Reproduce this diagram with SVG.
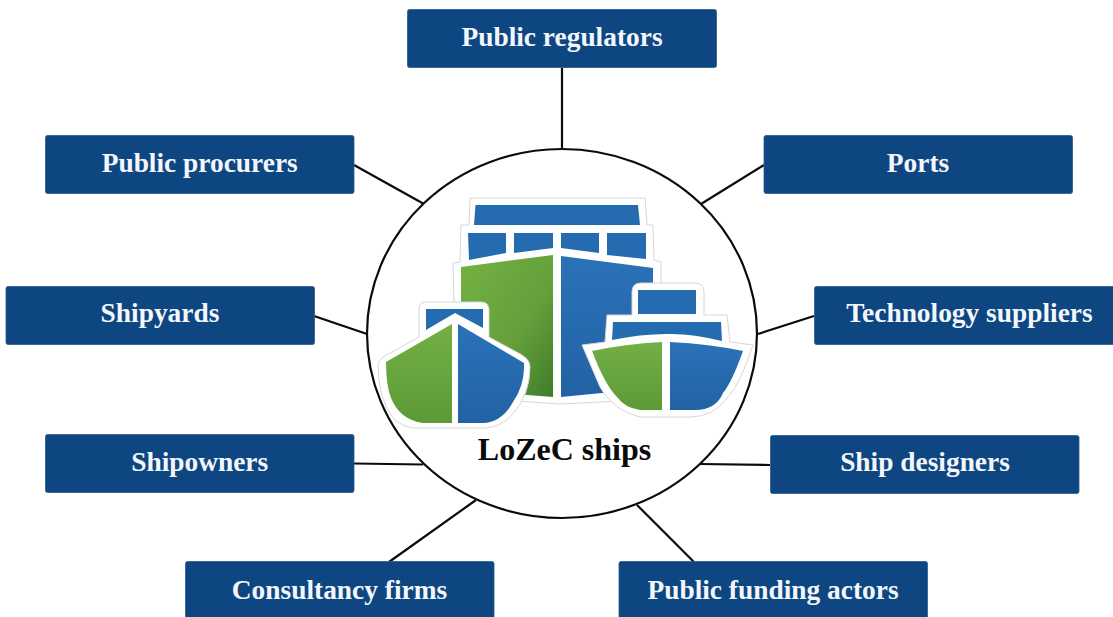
<svg xmlns="http://www.w3.org/2000/svg" width="1113" height="617" viewBox="0 0 1113 617">
<style>
.box{fill:#0e4682;stroke:#2a5a8e;stroke-width:.8}
.lbl{font-family:"Liberation Serif","Times New Roman",serif;font-weight:700;font-size:27.4px;fill:#f3f7fb;text-anchor:middle}
.con{stroke:#0a0a0a;stroke-width:2.2;fill:none}
.out{fill:#fff;stroke:#d6d6d6;stroke-width:1;stroke-linejoin:round}
.b{fill:url(#blue)}
.g{fill:url(#green)}
.gd{fill:url(#greenDark)}
.w{fill:#246bb0}
</style>
<defs>
<linearGradient id="blue" x1="0" y1="0" x2="0" y2="1"><stop offset="0" stop-color="#2a72b8"/><stop offset="1" stop-color="#2262a4"/></linearGradient>
<linearGradient id="green" x1="0" y1="0" x2="0" y2="1"><stop offset="0" stop-color="#72b044"/><stop offset="1" stop-color="#5c9a38"/></linearGradient>
<linearGradient id="greenDark" x1="0" y1="0" x2="1" y2="1"><stop offset="0" stop-color="#74b244"/><stop offset=".6" stop-color="#649f3a"/><stop offset="1" stop-color="#3f7c2a"/></linearGradient>
</defs>
<rect width="1113" height="617" fill="#fff"/>
<g id="connectors">
<line class="con" x1="562" y1="68" x2="562" y2="149"/>
<line class="con" x1="354" y1="165" x2="424" y2="204"/>
<line class="con" x1="764" y1="165" x2="701" y2="204"/>
<line class="con" x1="314" y1="316" x2="367" y2="334"/>
<line class="con" x1="814" y1="316" x2="758" y2="334"/>
<line class="con" x1="354" y1="463.500" x2="423" y2="464.500"/>
<line class="con" x1="770" y1="465" x2="700" y2="464"/>
<line class="con" x1="389" y1="562" x2="476" y2="500"/>
<line class="con" x1="694" y1="562" x2="637" y2="505"/>
</g>
<g id="hub">
<ellipse cx="562" cy="333.500" rx="195" ry="184.500" fill="#fff" stroke="#0a0a0a" stroke-width="2.200"/>
<g id="ship-large">
<path class="out" d="M470 198H645L647 225H653L654 260L661 262V330L640 400L560 404L500 400L455 340L453 263L460 262L461 225H469Z"/>
<path class="w" d="M475.500 205H638L640 225H474Z"/>
<path class="w" d="M468 233H506V253L469 260Z"/>
<path class="w" d="M514 233H553V248L514 253Z"/>
<path class="w" d="M561 233H599V253L561 248Z"/>
<path class="w" d="M607 233H646V259L607 255Z"/>
<path class="gd" d="M461 267L553 255V397L461 390Z"/>
<path class="b" d="M561 256L653 268V393L602 393L561 397Z"/>
</g>
<g id="ship-left">
<path class="out" d="M426 302H481Q489 302 489 310V337L522 355Q530 360 530 367Q530 395 512 415Q500 428 484 428H413Q395 425 388 410Q378 392 378 365Q378 360 385 356L419 337V310Q419 302 426 302Z"/>
<path class="w" d="M426 309H483V328L455 313L426 330Z"/>
<path class="g" d="M452 324V423H423Q400 420 391 398Q386 385 386 362Z"/>
<path class="b" d="M458 324L524 363Q525 385 513 402Q502 422 483 423H458Z"/>
</g>
<g id="ship-right">
<path class="out" d="M582 345L605 342L607 315H632V292Q632 283 641 283H695Q704 283 704 292V315H727L730 342L753 345Q740 385 727 398Q713 417 690 417H640Q622 412 613 403Q604 395 600 387Z"/>
<path class="w" d="M638 290H696V314H638Z"/>
<path class="w" d="M613 322H721L722 341Q690 333 667 334Q640 334 612 340Z"/>
<path class="g" d="M592 351Q625 344 662 342V410H640Q625 408 617 397Q605 385 592 351Z"/>
<path class="b" d="M670 342Q710 344 743 351Q732 382 723 393Q716 410 695 410H670Z"/>
</g>
<text x="564.500" y="460" font-family="Liberation Serif,Times New Roman,serif" font-weight="700" font-size="32" fill="#0a0a0a" text-anchor="middle">LoZeC ships</text>
</g>
<g id="public-regulators"><rect class="box" x="407.500" y="9.500" width="309" height="58" rx="2"/><text class="lbl" x="562" y="46">Public regulators</text></g>
<g id="public-procurers"><rect class="box" x="45.500" y="135.500" width="308.500" height="58" rx="2"/><text class="lbl" x="199.700" y="171.500">Public procurers</text></g>
<g id="ports"><rect class="box" x="764" y="135.500" width="308.500" height="58" rx="2"/><text class="lbl" x="918" y="171.500">Ports</text></g>
<g id="shipyards"><rect class="box" x="6" y="286.500" width="308.500" height="58" rx="2"/><text class="lbl" x="160" y="322">Shipyards</text></g>
<g id="technology-suppliers"><rect class="box" x="814.500" y="286.500" width="310" height="58" rx="2"/><text class="lbl" x="969.500" y="322">Technology suppliers</text></g>
<g id="shipowners"><rect class="box" x="45.500" y="434.500" width="308.500" height="58" rx="2"/><text class="lbl" x="199.700" y="471">Shipowners</text></g>
<g id="ship-designers"><rect class="box" x="770.500" y="435.500" width="308.500" height="58" rx="2"/><text class="lbl" x="925" y="471">Ship designers</text></g>
<g id="consultancy-firms"><rect class="box" x="185.500" y="561.500" width="308.500" height="70" rx="2"/><text class="lbl" x="339.500" y="598.500">Consultancy firms</text></g>
<g id="public-funding-actors"><rect class="box" x="619" y="561.500" width="308.500" height="70" rx="2"/><text class="lbl" x="773" y="598.500">Public funding actors</text></g>
</svg>
